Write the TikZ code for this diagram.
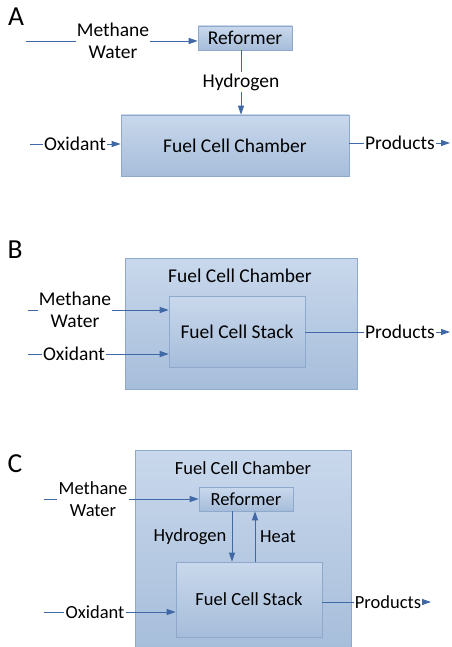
\documentclass[tikz,border=0pt]{standalone}
\usepackage{fontspec}
\setmainfont{Carlito}
\usetikzlibrary{arrows.meta,shadows}
\definecolor{boxtop}{HTML}{C9D8EC}
\definecolor{boxbot}{HTML}{A6BDDA}
\definecolor{boxline}{HTML}{8EA9CC}
\definecolor{flowblue}{HTML}{3F68A4}
\begin{document}
\begin{tikzpicture}[x=1pt,y=-1pt,
    box/.style={draw=boxline,line width=0.6pt,top color=boxtop,bottom color=boxbot,
        drop shadow={shadow xshift=1.2pt,shadow yshift=-1.2pt,opacity=0.35},
        inner sep=0pt,font=\fontsize{19.5}{22}\selectfont},
    txt/.style={inner sep=1pt,align=center,font=\fontsize{19.5}{22}\selectfont},
    ctxt/.style={txt,font=\fontsize{18.5}{22}\selectfont},
    lbl/.style={inner sep=0pt,font=\fontsize{27.5}{30}\selectfont},
    flow/.style={draw=flowblue,line width=0.9pt},
    feed/.style={flow,-{Triangle[length=9pt,width=6pt]}}]
    \useasboundingbox (0,0) rectangle (451,647);
    % A
    \node[lbl] (labA) at (16,17) {A};
    \node[box,minimum width=94pt,minimum height=24pt] (refA) at (245,38) {Reformer};
    \node[box,minimum width=228pt,minimum height=61pt] (fccA) at (235,145.5) {Fuel Cell Chamber};
    \node[txt] (feedA) at (113,41) {Methane\\Water};
    \coordinate (feedAin) at (26,41);
    \draw[flow] (feedAin) -- (feedA.west);
    \draw[feed] (feedA.east) -- (feedA.east -| refA.west);
    \node[txt] (h2A) at (241,82) {Hydrogen};
    \draw[flow] (refA.south -| h2A) -- (h2A.north);
    \draw[feed] (h2A.south) -- (h2A |- fccA.north);
    \node[txt] (oxA) at (75,144) {Oxidant};
    \coordinate (oxAin) at (30,144);
    \draw[flow] (oxAin) -- (oxA.west);
    \draw[feed] (oxA.east) -- (oxA -| fccA.west);
    \node[txt] (prA) at (400,143) {Products};
    \coordinate (prAout) at (450,143);
    \draw[flow] (fccA.east |- prA) -- (prA.west);
    \draw[feed] (prA.east) -- (prAout);
    % B
    \node[lbl] (labB) at (15,250) {B};
    \node[box,minimum width=232pt,minimum height=131pt] (fccB) at (241,323.5) {};
    \node[txt] (fccBt) at (240,276) {Fuel Cell Chamber};
    \node[box,minimum width=136pt,minimum height=71pt] (stackB) at (237,331.5) {Fuel Cell Stack};
    \node[txt] (feedB) at (75,310) {Methane\\Water};
    \coordinate (feedBin) at (28,310);
    \draw[flow] (feedBin) -- (feedB.west);
    \draw[feed] (feedB.east) -- (feedB -| stackB.west);
    \node[txt] (oxB) at (74,354) {Oxidant};
    \coordinate (oxBin) at (28,354);
    \draw[flow] (oxBin) -- (oxB.west);
    \draw[feed] (oxB.east) -- (oxB -| stackB.west);
    \node[txt] (prB) at (400,332) {Products};
    \coordinate (prBout) at (450,332);
    \draw[flow] (stackB.east |- prB) -- (prB.west);
    \draw[feed] (prB.east) -- (prBout);
    % C
    \node[lbl] (labC) at (15,464) {C};
    \node[box,minimum width=216pt,minimum height=202pt] (fccC) at (243,551) {};
    \node[ctxt] (fccCt) at (243,468) {Fuel Cell Chamber};
    \node[box,minimum width=94pt,minimum height=24pt,font=\fontsize{18.5}{22}\selectfont] (refC) at (246,499) {Reformer};
    \node[box,minimum width=146pt,minimum height=75pt,font=\fontsize{18.5}{22}\selectfont] (stackC) at (249,599.5) {Fuel Cell Stack};
    \node[ctxt] (feedC) at (93,499) {Methane\\Water};
    \coordinate (feedCin) at (44,499);
    \draw[flow] (feedCin) -- (feedC.west);
    \draw[feed] (feedC.east) -- (refC.west);
    \node[ctxt] (h2C) at (190,537) {Hydrogen};
    \node[ctxt] (heatC) at (278,537) {Heat};
    \coordinate (h2Ctop) at (232,511);
    \coordinate (heatCbot) at (255,562);
    \draw[feed] (h2Ctop) -- (h2Ctop |- stackC.north);
    \draw[feed] (heatCbot) -- (heatCbot |- refC.south);
    \node[ctxt] (oxC) at (95,612) {Oxidant};
    \coordinate (oxCin) at (44,612);
    \draw[flow] (oxCin) -- (oxC.west);
    \draw[feed] (oxC.east) -- (oxC -| stackC.west);
    \node[ctxt] (prC) at (388,602) {Products};
    \coordinate (prCout) at (431,602);
    \draw[flow] (stackC.east |- prC) -- (prC.west);
    \draw[feed] (prC.east) -- (prCout);
\end{tikzpicture}
\end{document}
